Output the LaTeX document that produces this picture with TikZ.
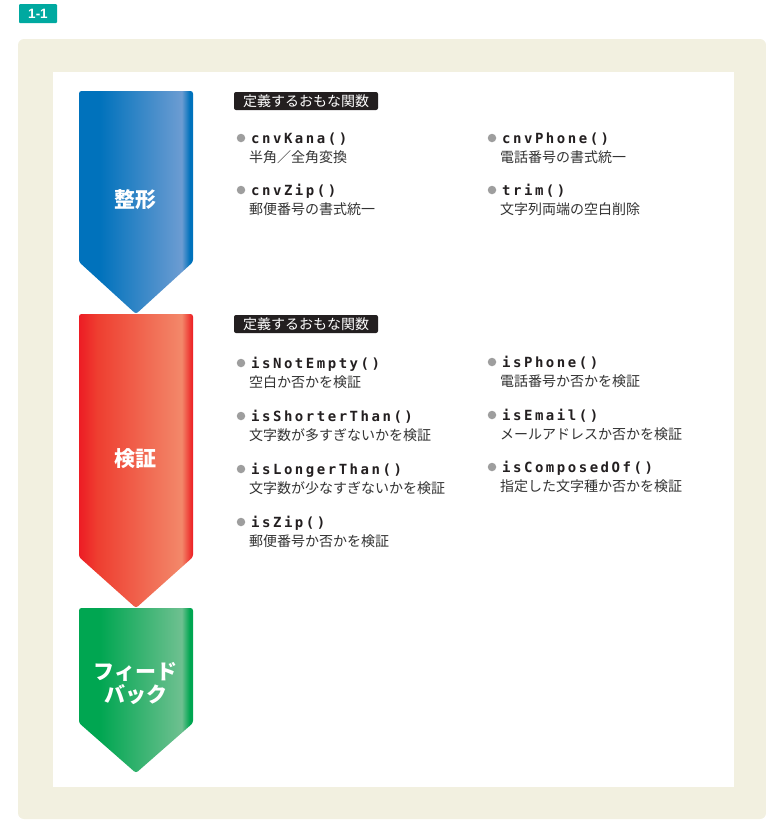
\documentclass[tikz,border=0pt]{standalone}
\usepackage{fontspec}
\newfontfamily\jp{Noto Sans CJK JP}
\newfontfamily\codefont[LetterSpace=18]{DejaVu Sans Mono}
\newfontfamily\labfont{Liberation Sans}
\definecolor{beige}{RGB}{242,240,224}
\definecolor{tealA}{RGB}{0,169,160}
\definecolor{bA}{RGB}{0,114,188}
\definecolor{bB}{RGB}{108,156,210}
\definecolor{rA}{RGB}{237,28,36}
\definecolor{rM}{RGB}{238,62,48}
\definecolor{rB}{RGB}{243,136,106}
\definecolor{rC}{RGB}{238,58,52}
\definecolor{gA}{RGB}{0,166,81}
\definecolor{gB}{RGB}{110,192,144}
\definecolor{codecol}{RGB}{35,31,32}
\definecolor{desccol}{RGB}{51,51,51}
\definecolor{dotcol}{RGB}{158,158,158}
\pgfdeclarehorizontalshading{blueshade}{100bp}{color(0bp)=(bA); color(25bp)=(bA); color(34bp)=(bA); color(70bp)=(bB); color(73.5bp)=(bA); color(75bp)=(bA); color(100bp)=(bA)}
\pgfdeclarehorizontalshading{redshade}{100bp}{color(0bp)=(rA); color(25bp)=(rA); color(33bp)=(rM); color(70bp)=(rB); color(73.5bp)=(rC); color(75bp)=(rA); color(100bp)=(rA)}
\pgfdeclarehorizontalshading{greenshade}{100bp}{color(0bp)=(gA); color(25bp)=(gA); color(34bp)=(gA); color(70bp)=(gB); color(73.5bp)=(gA); color(75bp)=(gA); color(100bp)=(gA)}
\newcommand\fitem[5]{%
  \node[bdot] (#1d) at ({#2},{#3-5}) {};
  \node[codetext] (#1c) at ({#2+10},{#3}) {#4};
  \node[desctext] (#1t) at ({#2+8},{#3+19}) {#5};
}
\begin{document}
\begin{tikzpicture}[x=1pt,y=-1pt,
  bdot/.style={circle, fill=dotcol, minimum size=8.5pt, inner sep=0},
  codetext/.style={anchor=base west, inner sep=0, text=codecol, font=\codefont\bfseries\fontsize{14}{16}\selectfont},
  desctext/.style={anchor=base west, inner sep=0, text=desccol, font=\jp\fontsize{14}{16}\selectfont},
  headbox/.style={fill=codecol, text=white, rounded corners=2pt, inner sep=0, minimum width=144pt, minimum height=18pt, text height=12.3pt, text depth=1.7pt, font=\jp\fontsize{14}{16}\selectfont},
  title/.style={text=white, inner sep=0, align=center, font=\jp\bfseries\fontsize{21}{23}\selectfont}]
\useasboundingbox (0,0) rectangle (766,820);
\fill[beige, rounded corners=6pt] (18,39) rectangle (766,819);
\fill[white] (53,72) rectangle (734,787);
\node[fill=tealA, minimum width=38pt, minimum height=19pt, inner sep=0, rounded corners=1pt, text=white, font=\labfont\bfseries\fontsize{13.5}{14}\selectfont] (fig) at (38,13.5) {1-1};
% arrows
\shade[shading=blueshade, rounded corners=2.5pt] (79,262) -- (79,91) -- (193,91) -- (193,262) -- (136,314) -- cycle;
\shade[shading=redshade, rounded corners=2.5pt] (79,557) -- (79,314) -- (193,314) -- (193,557) -- (136,608) -- cycle;
\shade[shading=greenshade, rounded corners=2.5pt] (79,723) -- (79,608) -- (193,608) -- (193,723) -- (136,773) -- cycle;
\node[title] (t1) at (135,200) {整形};
\node[title] (t2) at (135,459) {検証};
\node[title] (t3) at (135.5,683.5) {フィード\\バック};
% section 1
\node[headbox] (h1) at (306,101) {定義するおもな関数};
\fitem{a}{241}{143}{cnvKana()}{半角／全角変換}
\fitem{b}{241}{195}{cnvZip()}{郵便番号の書式統一}
\fitem{c}{492}{143}{cnvPhone()}{電話番号の書式統一}
\fitem{d}{492}{195}{trim()}{文字列両端の空白削除}
% section 2
\node[headbox] (h2) at (306,324) {定義するおもな関数};
\fitem{e}{241}{368}{isNotEmpty()}{空白か否かを検証}
\fitem{f}{241}{421}{isShorterThan()}{文字数が多すぎないかを検証}
\fitem{g}{241}{474}{isLongerThan()}{文字数が少なすぎないかを検証}
\fitem{h}{241}{527}{isZip()}{郵便番号か否かを検証}
\fitem{i}{492}{367}{isPhone()}{電話番号か否かを検証}
\fitem{j}{492}{420}{isEmail()}{メールアドレスか否かを検証}
\fitem{k}{492}{472}{isComposedOf()}{指定した文字種か否かを検証}
\end{tikzpicture}
\end{document}
